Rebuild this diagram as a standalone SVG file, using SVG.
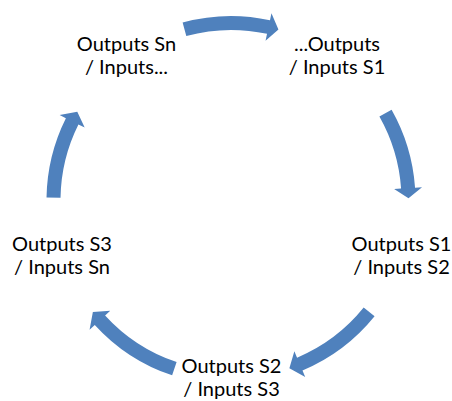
<svg xmlns="http://www.w3.org/2000/svg" width="452" height="401" viewBox="0 0 452 401">
  <style>
    .arrow { fill: #4F81BD; stroke: none; }
    .label { font-family: Lato, "Liberation Sans", sans-serif; font-size: 20px; fill: #000000; text-anchor: middle; }
  </style>
  <rect width="452" height="401" fill="#FFFFFF"/>

  <!-- curved arrows around the cycle, centre (231,200.5) -->
  <g id="connectors">
    <path class="arrow" d="M182.62,22.46 A184.5,184.5 0 0 1 269.98,20.17 L271.46,13.33 L278.43,29.46 L265.55,40.70 L267.03,33.85 A170.5,170.5 0 0 0 186.29,35.97 Z"/>
    <path class="arrow" d="M391.59,109.65 A184.5,184.5 0 0 1 415.05,187.63 L422.03,187.14 L408.49,198.33 L394.10,189.09 L401.08,188.61 A170.5,170.5 0 0 0 379.40,116.55 Z"/>
    <path class="arrow" d="M374.58,316.37 A184.5,184.5 0 0 1 302.49,370.59 L305.21,377.04 L289.38,368.13 L294.36,351.23 L297.07,357.68 A170.5,170.5 0 0 0 363.68,307.57 Z"/>
    <path class="arrow" d="M172.14,375.37 A184.5,184.5 0 0 1 94.75,324.91 L89.58,329.63 L92.87,311.97 L110.26,310.75 L105.09,315.47 A170.5,170.5 0 0 0 176.61,362.10 Z"/>
    <path class="arrow" d="M46.52,197.60 A184.5,184.5 0 0 1 65.89,118.18 L59.63,115.05 L77.28,111.75 L84.68,127.55 L78.42,124.42 A170.5,170.5 0 0 0 60.52,197.82 Z"/>
  </g>

  <g id="node-sn">
    <text class="label" x="126.5" y="51">Outputs Sn</text>
    <text class="label" x="126.5" y="74">/ Inputs...</text>
  </g>
  <g id="node-s1-in">
    <text class="label" x="337" y="51">...Outputs</text>
    <text class="label" x="337" y="74">/ Inputs S1</text>
  </g>
  <g id="node-s1">
    <text class="label" x="401.5" y="251">Outputs S1</text>
    <text class="label" x="401.5" y="274">/ Inputs S2</text>
  </g>
  <g id="node-s2">
    <text class="label" x="231.5" y="373">Outputs S2</text>
    <text class="label" x="231.5" y="396">/ Inputs S3</text>
  </g>
  <g id="node-s3">
    <text class="label" x="62" y="251">Outputs S3</text>
    <text class="label" x="62" y="274">/ Inputs Sn</text>
  </g>
</svg>
